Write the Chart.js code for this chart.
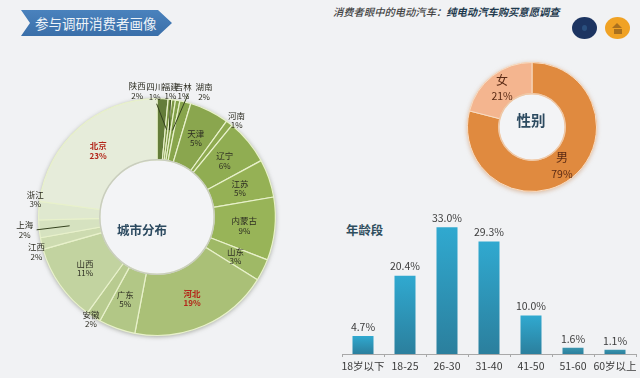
<!DOCTYPE html>
<html lang="zh">
<head>
<meta charset="utf-8">
<title>参与调研消费者画像</title>
<script src="https://cdn.jsdelivr.net/npm/chart.js@4/dist/chart.umd.min.js"></script>
<style>
  html, body { margin: 0; padding: 0; }
  body { width: 640px; height: 378px; background: #f1f2f4; position: relative; overflow: hidden; font-family: "Noto Sans CJK SC", sans-serif; }
  canvas { position: absolute; }
  .ribbon { position: absolute; left: 21px; top: 10px; width: 151px; height: 26px; background: linear-gradient(#4a82bd, #3a6fa9); clip-path: polygon(0 0, 137px 0, 151px 13px, 137px 26px, 0 26px, 9px 13px); color: #eef3f8; font-size: 13.5px; line-height: 26px; padding-left: 14px; box-sizing: border-box; white-space: nowrap; }
  .headline { position: absolute; left: 333px; top: 4px; font-size: 10.3px; line-height: 16px; font-style: italic; font-weight: 500; color: #444; white-space: nowrap; }
  .headline span { color: #1e3a4e; font-weight: 700; }
  .dot { position: absolute; top: 17px; width: 25px; height: 22px; border-radius: 50%; }
  .dot.navy { left: 572px; background: #1c3461; }
  .dot.navy i { position: absolute; left: 10px; top: 8px; width: 5px; height: 6px; background: #2a4f7e; border-radius: 50%; }
  .dot.amber { left: 605px; background: #f0a224; }
  .dot.amber i { position: absolute; left: 7px; top: 6px; width: 0; height: 0; border-left: 5.5px solid transparent; border-right: 5.5px solid transparent; border-bottom: 5px solid #a9701e; }
  .dot.amber b { position: absolute; left: 8.5px; top: 11.5px; width: 8px; height: 5px; background: #a9701e; }
  .agetitle { position: absolute; left: 346px; top: 221px; font-size: 12.4px; line-height: 18px; font-weight: 700; color: #2f4e5e; white-space: nowrap; }
</style>
</head>
<body>
<div class="ribbon">参与调研消费者画像</div>
<div class="headline">消费者眼中的电动汽车：<span>纯电动汽车购买意愿调查</span></div>
<div class="dot navy"><i></i></div>
<div class="dot amber"><i></i><b></b></div>
<div class="agetitle">年龄段</div>

<canvas id="cityChart" width="320" height="300" style="left:0;top:70px"></canvas>
<canvas id="genderChart" width="200" height="170" style="left:440px;top:40px"></canvas>
<canvas id="ageChart" width="320" height="188" style="left:320px;top:190px"></canvas>

<script>
const cityNames = ['陕西', '四川', '福建', '吉林', '湖南', '天津', '河南', '辽宁', '江苏', '内蒙古', '山东', '河北', '广东', '安徽', '山西', '江西', '上海', '浙江', '北京'];
const cityValues = [1.5, 0.5, 0.5, 0.6, 1.5, 5.4, 0.9, 6.2, 5.2, 8.6, 3.0, 19.1, 5.0, 2.0, 10.6, 1.6, 2.4, 2.5, 22.9];

const genderNames = ['男', '女'];
const genderValues = [79, 21];

const ageNames = ['18岁以下', '18-25', '26-30', '31-40', '41-50', '51-60', '60岁以上'];
const ageValues = [4.7, 20.4, 33.0, 29.3, 10.0, 1.6, 1.1];

// styling
const cityColors = ['#647d3a', '#76913f', '#7c9745', '#82a049', '#88a54c', '#8aa64e', '#8eaa50', '#90ad52', '#95b155', '#98b458', '#9fb966', '#aac077', '#b2c786', '#b8cb90', '#c2d3a0', '#cddbb0', '#d6e2c0', '#dfe8cf', '#e6ecda'];
const cityLabelShift = [[-24, -38.5], [-12, -38], [1, -39], [11, -39], [26, -40], [0, 0], [26, -27], [0, 0], [0, 0], [0, 0], [0, 0], [0, 1], [-2, 0], [-19, 28], [0, 1], [-35, 15], [-45, 4], [-34, -13], [-1, 0]];
// label-side end of each leader line, relative to the label
const cityLeaders = { '四川': [2, 12], '福建': [0, 9], '吉林': [5, 2], '上海': [12, 0] };
const cityRedLabels = ['北京', '河北'];
const genderColors = ['#e08a3f', '#f4b58f'];
const CJK = '"Noto Sans CJK SC", sans-serif';

// soft grey rim round a doughnut, hole painted back to the page colour
const ringHalo = {
    id: 'ringHalo',
    beforeDatasetsDraw(chart, args, opts) {
        const arc = chart.getDatasetMeta(0).data[0];
        const ctx = chart.ctx;
        ctx.save();
        ctx.beginPath();
        ctx.arc(arc.x, arc.y, arc.outerRadius + 0.5, 0, Math.PI * 2);
        ctx.fillStyle = opts.color;
        ctx.shadowColor = opts.shadow;
        ctx.shadowBlur = 4;
        ctx.shadowOffsetY = 1;
        ctx.fill();
        ctx.shadowColor = 'transparent';
        ctx.beginPath();
        ctx.arc(arc.x, arc.y, arc.innerRadius, 0, Math.PI * 2);
        ctx.fillStyle = '#f3f4f6';
        ctx.fill();
        ctx.restore();
    },
    afterDatasetsDraw(chart, args, opts) {
        const arc = chart.getDatasetMeta(0).data[0];
        const ctx = chart.ctx;
        ctx.save();
        ctx.beginPath();
        ctx.arc(arc.x, arc.y, arc.innerRadius, 0, Math.PI * 2);
        ctx.strokeStyle = opts.rim;
        ctx.lineWidth = 1.5;
        ctx.stroke();
        ctx.restore();
    }
};

const sliceLabels = {
    id: 'sliceLabels',
    afterDatasetsDraw(chart, args, opts) {
        const ctx = chart.ctx;
        const names = chart.data.labels;
        const values = chart.data.datasets[0].data;
        const shifts = opts.shifts || [];
        const leaders = opts.leaders || {};
        ctx.save();
        ctx.textAlign = 'center';
        ctx.textBaseline = 'middle';
        chart.getDatasetMeta(0).data.forEach((arc, i) => {
            const c = arc.getCenterPoint();
            const s = shifts[i] || [0, 0];
            const x = c.x + s[0];
            const y = c.y + s[1];
            const leader = leaders[names[i]];
            if (leader) {
                ctx.beginPath();
                ctx.moveTo(c.x, c.y);
                ctx.lineTo(x + leader[0], y + leader[1]);
                ctx.strokeStyle = '#35421f';
                ctx.lineWidth = 1;
                ctx.stroke();
            }
        });
        chart.getDatasetMeta(0).data.forEach((arc, i) => {
            const c = arc.getCenterPoint();
            const s = shifts[i] || [0, 0];
            const red = (opts.red || []).includes(names[i]);
            ctx.fillStyle = red ? '#b3261a' : opts.color;
            ctx.font = (red ? '700 ' : '') + opts.nameSize + 'px ' + CJK;
            ctx.fillText(names[i], c.x + s[0], c.y + s[1] - opts.gap);
            ctx.font = (red ? '700 ' : '') + opts.pctSize + 'px ' + CJK;
            ctx.fillText(Math.round(values[i]) + '%', c.x + s[0], c.y + s[1] + opts.gap);
        });
        ctx.restore();
    }
};

const holeTitle = {
    id: 'holeTitle',
    afterDatasetsDraw(chart, args, opts) {
        const arc = chart.getDatasetMeta(0).data[0];
        const ctx = chart.ctx;
        ctx.save();
        ctx.font = '700 ' + opts.size + 'px ' + CJK;
        ctx.fillStyle = '#2c4a60';
        ctx.textAlign = 'center';
        ctx.textBaseline = 'middle';
        ctx.fillText(opts.text, arc.x + opts.dx, arc.y + opts.dy);
        ctx.restore();
    }
};

const barValues = {
    id: 'barValues',
    afterDatasetsDraw(chart) {
        const ctx = chart.ctx;
        ctx.save();
        ctx.font = '10.5px ' + CJK;
        ctx.fillStyle = '#3c3c3c';
        ctx.textAlign = 'center';
        ctx.textBaseline = 'bottom';
        chart.getDatasetMeta(0).data.forEach((bar, i) => {
            ctx.fillText(ageValues[i].toFixed(1) + '%', bar.x, bar.y - 4);
        });
        ctx.restore();
    }
};

new Chart(document.getElementById('cityChart'), {
    type: 'doughnut',
    data: {
        labels: cityNames,
        datasets: [{ data: cityValues, backgroundColor: cityColors, borderColor: '#e8f1cb', borderWidth: 1.2 }]
    },
    plugins: [ringHalo, sliceLabels, holeTitle],
    options: {
        responsive: false,
        animation: false,
        cutout: '48.3%',
        layout: { padding: { left: 38, right: 44, top: 28, bottom: 34 } },
        plugins: {
            legend: { display: false },
            tooltip: { enabled: false },
            ringHalo: { color: '#d3d8c8', shadow: 'rgba(120,125,110,0.6)', rim: '#c9cdbf' },
            sliceLabels: { shifts: cityLabelShift, leaders: cityLeaders, red: cityRedLabels, color: '#2d2d22', nameSize: 8.5, pctSize: 8, gap: 4.8 },
            holeTitle: { text: '城市分布', size: 12.5, dx: -15, dy: 13 }
        }
    }
});

new Chart(document.getElementById('genderChart'), {
    type: 'doughnut',
    data: {
        labels: genderNames,
        datasets: [{ data: genderValues, backgroundColor: genderColors, borderColor: '#f7dcc4', borderWidth: 1 }]
    },
    plugins: [ringHalo, sliceLabels, holeTitle],
    options: {
        responsive: false,
        animation: false,
        cutout: '51.5%',
        layout: { padding: { left: 27, right: 43, top: 22, bottom: 18 } },
        plugins: {
            legend: { display: false },
            tooltip: { enabled: false },
            ringHalo: { color: '#f3cfae', shadow: 'rgba(200,150,110,0.6)', rim: '#efc8a6' },
            sliceLabels: { color: '#5a2a14', nameSize: 12, pctSize: 10.5, gap: 8 },
            holeTitle: { text: '性别', size: 14.5, dx: -1, dy: -7 }
        }
    }
});

new Chart(document.getElementById('ageChart'), {
    type: 'bar',
    data: {
        labels: ageNames,
        datasets: [{
            data: ageValues,
            barPercentage: 0.5,
            categoryPercentage: 1,
            backgroundColor(context) {
                const scale = context.chart.scales.y;
                const value = ageValues[context.dataIndex];
                const top = scale ? scale.getPixelForValue(value) : NaN;
                const base = scale ? scale.getPixelForValue(0) : NaN;
                if (!Number.isFinite(top) || !Number.isFinite(base)) return '#2f9bc0';
                const g = context.chart.ctx.createLinearGradient(0, top, 0, base);
                g.addColorStop(0, value < 3 ? '#3a95ae' : '#30a9d0');
                g.addColorStop(1, '#2b7f9d');
                return g;
            }
        }]
    },
    plugins: [barValues],
    options: {
        responsive: false,
        animation: false,
        layout: { padding: { left: 22, right: 4, top: 10.4, bottom: 0 } },
        plugins: { legend: { display: false }, tooltip: { enabled: false } },
        scales: {
            x: {
                afterFit(scale) { scale.height = 24; },
                border: { color: '#a8a8a8' },
                grid: { drawOnChartArea: false, tickLength: 3, color: '#a8a8a8' },
                ticks: { color: '#3a3a3a', font: { family: CJK, size: 10.5 }, padding: 3, autoSkip: false, maxRotation: 0 }
            },
            y: { display: false, min: 0, max: 40 }
        }
    }
});
</script>
</body>
</html>
